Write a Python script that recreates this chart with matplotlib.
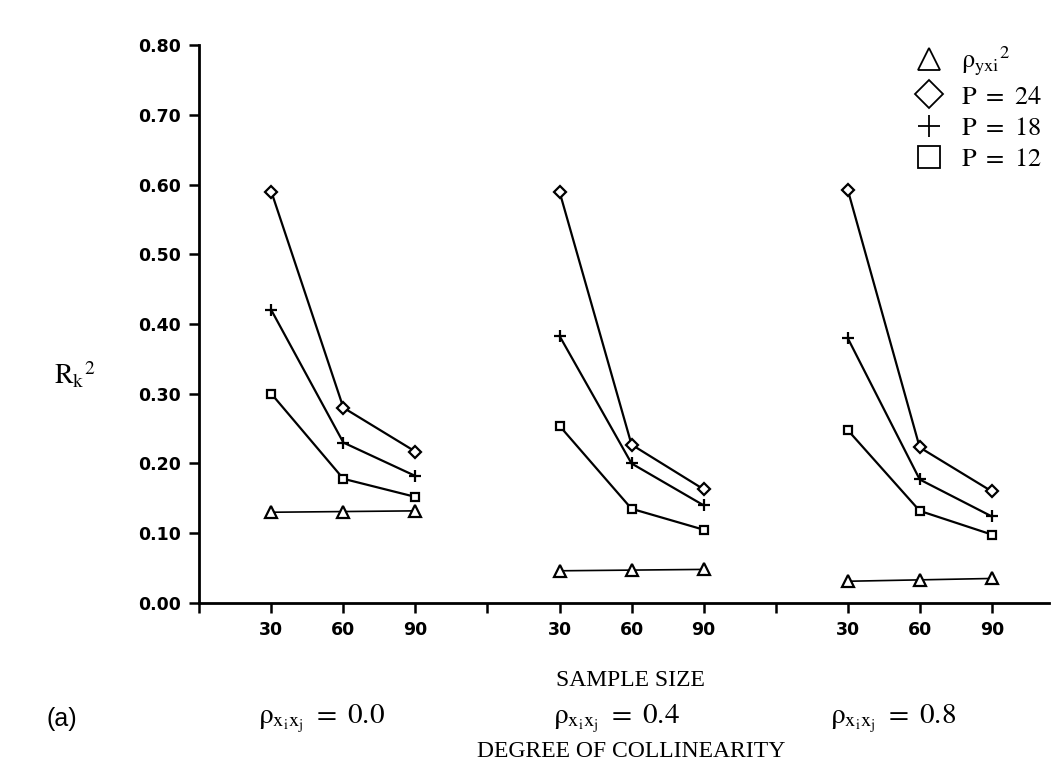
import matplotlib
matplotlib.use("Agg")
import matplotlib.pyplot as plt
from matplotlib.lines import Line2D

plt.rcParams.update({
    "font.family": "DejaVu Sans",
    "mathtext.fontset": "stix",
})

# data
sample_sizes = [30, 60, 90]
collinearity = ["0.0", "0.4", "0.8"]

rho_yxi2 = [[0.130, 0.131, 0.132],
            [0.046, 0.047, 0.048],
            [0.031, 0.033, 0.035]]
p24 = [[0.590, 0.280, 0.217],
       [0.590, 0.227, 0.163],
       [0.593, 0.223, 0.160]]
p18 = [[0.420, 0.230, 0.182],
       [0.383, 0.200, 0.140],
       [0.380, 0.177, 0.124]]
p12 = [[0.300, 0.178, 0.152],
       [0.254, 0.135, 0.105],
       [0.248, 0.132, 0.098]]

series = [
    (rho_yxi2, "^", 1.2, r"$\mathrm{ρ_{yxi}}{}^{2}$"),
    (p24, "D", 1.6, r"$\mathrm{P\ =\ 24}$"),
    (p18, "+", 1.6, r"$\mathrm{P\ =\ 18}$"),
    (p12, "s", 1.6, r"$\mathrm{P\ =\ 12}$"),
]

fig = plt.figure(figsize=(10.6, 7.67), dpi=100)
ax = fig.add_axes([0.188, 0.214, 0.802, 0.727])

group_step = len(sample_sizes) + 1
for values, marker, lw, label in series:
    for g, vals in enumerate(values):
        xs = [1 + g * group_step + i for i in range(len(sample_sizes))]
        ms = 8 if marker in ("^", "+") else 6
        ax.plot(xs, vals, color="black", lw=lw, marker=marker, ms=ms,
                mfc="white", mec="black", mew=1.6)

# axes styling
ax.set_xlim(0, 11.8)
ax.set_ylim(0, 0.80)
for s in ("top", "right"):
    ax.spines[s].set_visible(False)
for s in ("left", "bottom"):
    ax.spines[s].set_linewidth(2.0)

ticks = list(range(0, 3 * group_step))
tick_labels = []
for t in ticks:
    k = t % group_step
    tick_labels.append("" if k == 0 else str(sample_sizes[k - 1]))
ax.set_xticks(ticks)
ax.set_xticklabels(tick_labels, fontweight="bold")
yt = [i / 10 for i in range(9)]
ax.set_yticks(yt)
ax.set_yticklabels([f"{v:.2f}" for v in yt], fontweight="bold")
ax.tick_params(axis="both", direction="out", length=7, width=1.8,
               labelsize=12.5, pad=6)

ax.text(-0.146, 0.41, r"$\mathrm{R_k}{}^{2}$", transform=ax.transAxes,
        fontsize=20, ha="center", va="center")

# legend
handles = []
for values, marker, lw, label in series:
    handles.append(Line2D([], [], ls="none", marker=marker, ms=16 if marker != "D" else 14,
                          mfc="white", mec="black", mew=1.3, color="black", label=label))
fig.legend(handles=handles, loc="upper right", bbox_to_anchor=(1.0, 0.965),
           frameon=False, fontsize=19, handletextpad=0.5, labelspacing=0.2,
           borderpad=0.2, handlelength=1.4)

# bottom labels
fig.text(0.595, 0.113, "SAMPLE SIZE", family="Liberation Serif", fontsize=17,
         ha="center", va="center")
fig.text(0.058, 0.063, "(a)", family="Liberation Sans", fontsize=18,
         ha="center", va="center")
group_x = [0.303, 0.582, 0.843]
for gx, c in zip(group_x, collinearity):
    fig.text(gx, 0.063, r"$\mathrm{ρ_{x_i x_j}\ =\ " + c + "}$",
             fontsize=21, ha="center", va="center")
fig.text(0.595, 0.020, "DEGREE OF COLLINEARITY", family="Liberation Serif",
         fontsize=17, ha="center", va="center")

fig.savefig("out.png", dpi=100)
